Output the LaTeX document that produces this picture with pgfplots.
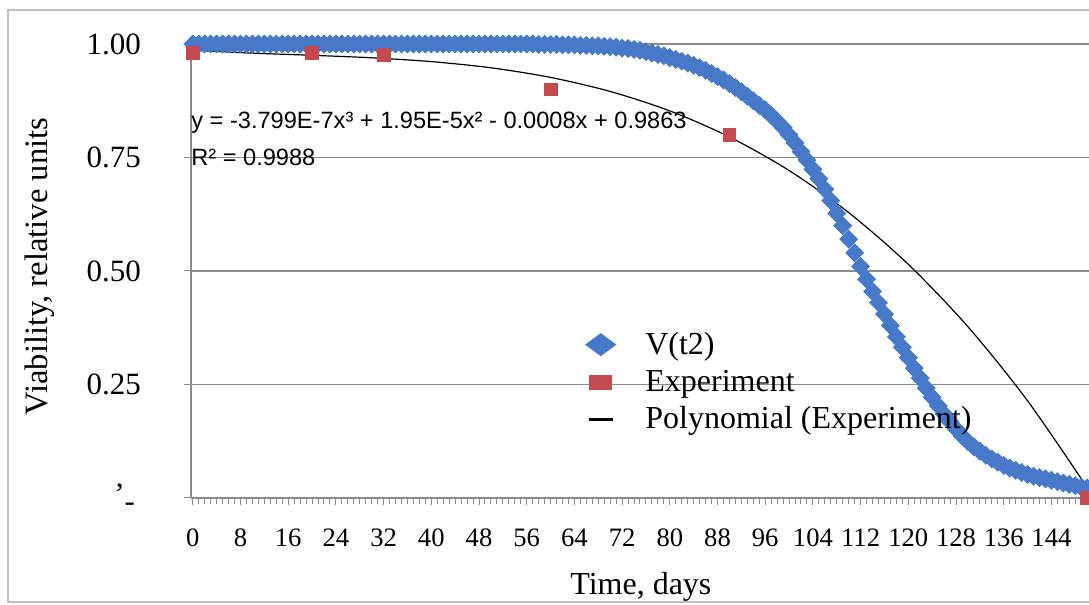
\documentclass[border=0pt]{standalone}
\usepackage{fontspec}
\setmainfont{Liberation Serif}
\newfontfamily\arialfont{Liberation Sans}
\usepackage{pgfplots}
\pgfplotsset{compat=1.18}
\definecolor{vblue}{RGB}{70,122,200}
\definecolor{ered}{RGB}{195,75,80}
\definecolor{gridgray}{RGB}{140,140,140}
\begin{document}
\begin{tikzpicture}
\useasboundingbox (-95.5pt,-53.5pt) rectangle (449pt,249pt);
\draw[gray!50, line width=0.8pt] (470pt,-52pt) -- (-91.5pt,-52pt) -- (-91.5pt,244pt) -- (470pt,244pt);
\begin{axis}[
  at={(0pt,0pt)}, anchor=south west, scale only axis,
  width=449pt, height=227pt,
  xmin=-0.3, xmax=150.3, ymin=0, ymax=1,
  clip=false,
  axis x line*=bottom, axis y line*=left,
  axis line style={gridgray, line width=0.8pt},
  ytick={0,0.25,0.5,0.75,1},
  yticklabels={{'\raisebox{-0.5ex}{-}\hspace*{3pt}},0.25,0.50,0.75,1.00},
  xtick={0,8,...,144},
  xticklabels={0,8,16,24,32,40,48,56,64,72,80,88,96,104,112,120,128,136,144},
  minor xtick={0,1,...,150},
  tick align=outside,
  major tick length=3.5pt, minor tick length=3pt,
  tick style={gridgray, line width=0.5pt},
  ymajorgrids,
  grid style={gridgray, line width=0.8pt},
  xticklabel style={font=\fontsize{13.3}{15}\selectfont, anchor=center, yshift=-16.5pt},
  yticklabel style={font=\fontsize{15.5}{18}\selectfont, anchor=east, xshift=-18pt},
  xlabel={Time, days},
  ylabel={Viability, relative units},
  xlabel style={font=\fontsize{16}{19}\selectfont, at={(axis description cs:0.501,-0.1960)}, anchor=center},
  ylabel style={font=\fontsize{16.3}{19}\selectfont, at={(axis description cs:-0.168,0.51)}, anchor=center},
  legend style={at={(axis description cs:0.432,0.384)}, anchor=north west, draw=none, fill=none,
    font=\fontsize{16}{19}\selectfont, cells={anchor=west}, row sep=2.3pt},
]
\addplot[only marks, mark=square*, mark size=3.15pt, mark options={rotate=45, fill=vblue, draw=vblue},
  legend image code/.code={\path (0.3cm-7pt,0pt) (0.3cm+20pt,0pt);\fill[vblue] (0.3cm,-5.5pt) -- (0.3cm+7.5pt,0pt) -- (0.3cm,5.5pt) -- (0.3cm-7.5pt,0pt) -- cycle;}]
coordinates {(0,1)(1,1)(2,1)(3,1)(4,1)(5,1)(6,1)(7,1)(8,1)(9,1)(10,1)(11,1)(12,1)(13,1)(14,1)(15,1)(16,1)(17,1)(18,1)(19,1)(20,1)(21,1)(22,1)(23,1)(24,1)(25,1)(26,1)(27,1)(28,1)(29,1)(30,1)(31,1)(32,1)(33,1)(34,1)(35,1)(36,1)(37,1)(38,1)(39,1)(40,1)(41,1)(42,1)(43,1)(44,1)(45,1)(46,1)(47,1)(48,1)(49,1)(50,1)(51,1)(52,1)(53,1)(54,1)(55,1)(56,1)(57,1)
(58,0.999)(59,0.999)(60,0.999)(61,0.999)(62,0.998)(63,0.998)(64,0.998)(65,0.997)(66,0.997)(67,0.996)(68,0.996)(69,0.995)(70,0.994)(71,0.993)(72,0.991)(73,0.990)(74,0.988)(75,0.986)(76,0.983)(77,0.980)(78,0.977)(79,0.974)(80,0.970)(81,0.966)(82,0.962)(83,0.958)(84,0.953)(85,0.948)(86,0.942)(87,0.935)(88,0.928)(89,0.921)(90,0.913)(91,0.904)(92,0.895)(93,0.885)(94,0.875)(95,0.865)(96,0.855)(97,0.843)(98,0.830)(99,0.816)(100,0.800)(101,0.782)(102,0.763)(103,0.744)(104,0.724)(105,0.703)(106,0.680)(107,0.655)(108,0.627)(109,0.600)(110,0.570)(111,0.540)(112,0.510)(113,0.482)(114,0.455)(115,0.430)(116,0.405)(117,0.380)(118,0.355)(119,0.332)(120,0.309)(121,0.286)(122,0.264)(123,0.242)(124,0.222)(125,0.203)(126,0.185)(127,0.168)(128,0.152)(129,0.137)(130,0.124)(131,0.113)(132,0.103)(133,0.094)(134,0.086)(135,0.079)(136,0.072)(137,0.066)(138,0.061)(139,0.056)(140,0.052)(141,0.048)(142,0.045)(143,0.042)(144,0.039)(145,0.036)(146,0.033)(147,0.030)(148,0.027)(149,0.024)(150,0.022)};
\addlegendentry{V(t2)}
\addplot[only marks, mark=square*, mark size=3.2pt, mark options={fill=ered, draw=ered},
  legend image code/.code={\path (0.3cm-7pt,0pt) (0.3cm+20pt,0pt);\fill[ered] (0.3cm-5.5pt,-3.5pt) rectangle (0.3cm+5.5pt,3.5pt);}]
coordinates {(0,0.98)(20,0.98)(32,0.976)(60,0.90)(90,0.80)(150,0)};
\addlegendentry{Experiment}
\addplot[black, line width=0.6pt, smooth, no marks,
  legend image code/.code={\path (0.3cm-7pt,0pt) (0.3cm+20pt,0pt);\draw[black, line width=1.6pt] (0.3cm-6pt,0pt) -- (0.3cm+6pt,0pt);}]
coordinates {(0,0.9863)(10,0.9799)(20,0.9751)(30,0.9696)(40,0.9612)(50,0.9476)(60,0.9264)(70,0.8955)(80,0.8526)(90,0.7953)(100,0.7214)(110,0.6286)(120,0.5146)(130,0.3772)(140,0.2141)(150,0.0229)};
\addlegendentry{Polynomial (Experiment)}
\node[anchor=west, inner sep=0pt, font=\arialfont\fontsize{11.8}{13}\selectfont] at (rel axis cs:0,0.826) {y = -3.799E-7x³ + 1.95E-5x² - 0.0008x + 0.9863};
\node[anchor=west, inner sep=0pt, font=\arialfont\fontsize{11.8}{13}\selectfont] at (rel axis cs:0,0.751) {R² = 0.9988};
\end{axis}
\end{tikzpicture}
\end{document}
